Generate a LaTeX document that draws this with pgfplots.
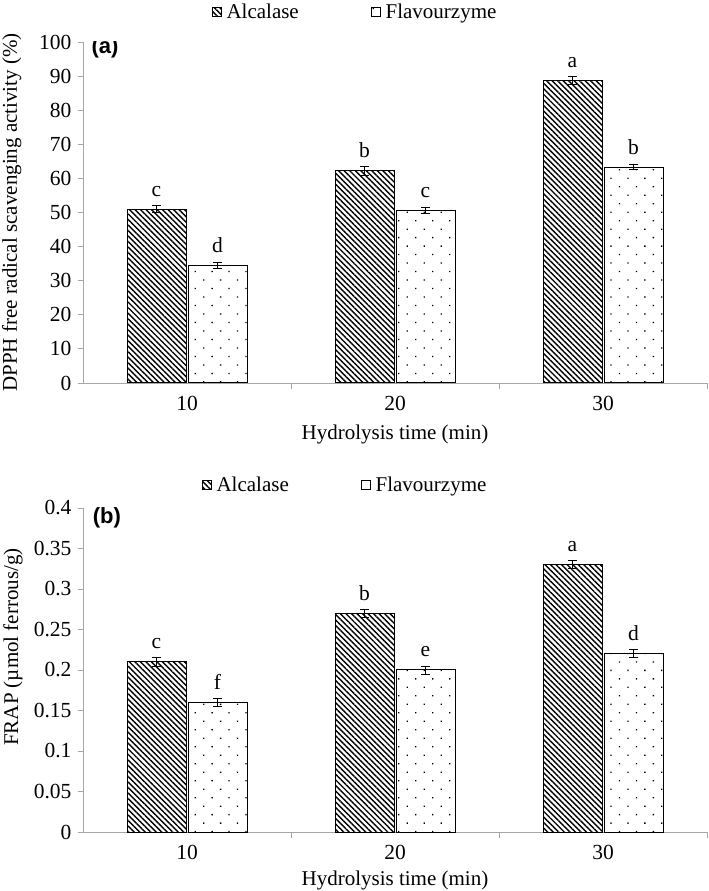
\documentclass[border=0pt]{standalone}
\usepackage{pgfplots}
\pgfplotsset{compat=1.18}
\usepackage{pgfplotstable}
\usepackage{fontspec}
\setmainfont{Liberation Serif}
\newfontfamily\sansfam{Liberation Sans}
\usetikzlibrary{patterns.meta}

\pgfplotstableread{
x y err lab
0 51.0 1.0 c
1 62.2 1.3 b
2 88.7 1.2 a
}\dpphAlc
\pgfplotstableread{
x y err lab
0 34.5 0.8 d
1 50.6 0.8 c
2 63.3 0.8 b
}\dpphFla
\pgfplotstableread{
x y err lab
0 0.210 0.005 c
1 0.270 0.005 b
2 0.330 0.005 a
}\frapAlc
\pgfplotstableread{
x y err lab
0 0.160 0.005 f
1 0.200 0.005 e
2 0.220 0.005 d
}\frapFla

\tikzset{
 alcpat/.style={draw=black, line width=1pt, pattern={Lines[angle=-45,distance=3.9pt,line width=1.4pt]}},
 flapat/.style={draw=black, line width=1pt, pattern={Dots[angle=45,distance=12pt,radius=0.9pt]}},
}

\pgfplotsset{
 mystyle/.style={
  width=624pt, scale only axis, anchor=south west,
  xmin=-0.5, xmax=2.5,
  ybar, bar width=59pt,
  axis x line*=bottom, axis y line*=left,
  axis line style={gray!70, line width=0.9pt},
  xtick={0,1,2}, xticklabels={10,20,30},
  xtick style={draw=none},
  extra x ticks={0.5,1.5,2.5}, extra x tick labels={},
  extra x tick style={xtick style={draw=gray!70, line width=0.9pt}, tick align=outside, major tick length=6pt},
  ytick style={gray!70, line width=0.9pt}, tick align=outside, major tick length=5pt,
  ticklabel style={font=\fontsize{21.5}{25}\selectfont},
  xticklabel style={yshift=-5pt},
  yticklabel style={xshift=-3pt},
  /pgf/number format/assume math mode=true,
  label style={font=\fontsize{21}{25}\selectfont},
  xlabel={Hydrolysis time (min)},
  legend columns=2,
  legend style={draw=none, fill=none, font=\fontsize{21}{25}\selectfont,
    /tikz/every even column/.append style={column sep=70pt},
    /tikz/every odd column/.append style={column sep=3pt}},
  legend image code/.code={\draw[#1, line width=0.8pt] (0pt,-4.5pt) rectangle (9pt,4.5pt);},
  nodes near coords, point meta=explicit symbolic,
  nodes near coords style={font=\fontsize{21.5}{25}\selectfont, anchor=south, yshift=9pt, black},
  error bars/y dir=both, error bars/y explicit,
  error bars/error bar style={black, line width=0.8pt},
  error bars/error mark options={rotate=90, mark size=4.5pt, black, line width=0.8pt},
 }
}

\begin{document}
\begin{tikzpicture}
\useasboundingbox (0,0) rectangle (709pt,891pt);
% (a)
\begin{axis}[mystyle,
  at={(83pt,508pt)}, height=341pt,
  ymin=0, ymax=100, ytick={0,10,...,100},
  ylabel={DPPH free radical scavenging activity (\%)},
  ylabel style={at={(axis description cs:-0.114,0.5)}, anchor=center},
  xlabel style={at={(axis description cs:0.5,-0.152)}, anchor=center},
  legend style={at={(0.436,1.088)}, anchor=center},
]
\addplot[alcpat] table[x=x, y=y, y error=err, meta=lab] {\dpphAlc};
\addlegendentry{Alcalase}
\addplot[flapat] table[x=x, y=y, y error=err, meta=lab] {\dpphFla};
\addlegendentry{Flavourzyme}
\node[anchor=west, font=\sansfam\bfseries\fontsize{22}{26}\selectfont] at (rel axis cs:0.008,0.982) {(a)};
\end{axis}
% (b)
\begin{axis}[mystyle,
  at={(83pt,59pt)}, height=324pt,
  ymin=0, ymax=0.4, ytick={0,0.05,...,0.41},
  scaled y ticks=false,
  yticklabel style={/pgf/number format/fixed, /pgf/number format/precision=2},
  ylabel={FRAP (µmol ferrous/g)},
  ylabel style={at={(axis description cs:-0.112,0.571)}, anchor=center},
  xlabel style={at={(axis description cs:0.5,-0.151)}, anchor=center},
  legend style={at={(0.420,1.071)}, anchor=center},
]
\addplot[alcpat] table[x=x, y=y, y error=err, meta=lab] {\frapAlc};
\addlegendentry{Alcalase}
\addplot[flapat] table[x=x, y=y, y error=err, meta=lab] {\frapFla};
\addlegendentry{Flavourzyme}
\node[anchor=west, font=\sansfam\bfseries\fontsize{22}{26}\selectfont] at (rel axis cs:0.010,0.969) {(b)};
\end{axis}
\end{tikzpicture}
\end{document}
